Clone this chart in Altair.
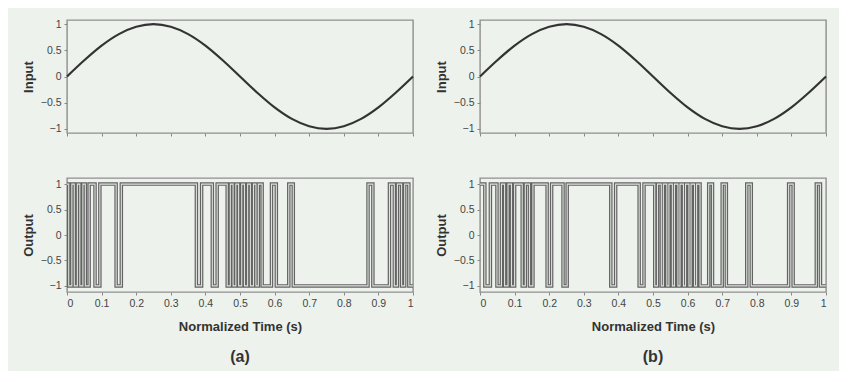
import altair as alt
import pandas as pd

# ---- data ----
t_in = [0.0, 0.05, 0.10, 0.15, 0.20, 0.25, 0.30, 0.35, 0.40, 0.45, 0.50,
        0.55, 0.60, 0.65, 0.70, 0.75, 0.80, 0.85, 0.90, 0.95, 1.0]
y_in = [0.0, 0.31, 0.59, 0.81, 0.95, 1.0, 0.95, 0.81, 0.59, 0.31, 0.0,
        -0.31, -0.59, -0.81, -0.95, -1.0, -0.95, -0.81, -0.59, -0.31, 0.0]

# high (+1) intervals of the output pulse trains; elsewhere the output is -1
a_high = [(0.000, 0.005), (0.014, 0.021), (0.030, 0.037), (0.046, 0.053),
          (0.064, 0.081), (0.095, 0.142), (0.157, 0.374), (0.389, 0.420),
          (0.434, 0.463), (0.472, 0.480), (0.488, 0.496), (0.505, 0.513),
          (0.522, 0.530), (0.539, 0.546), (0.553, 0.564), (0.591, 0.605),
          (0.641, 0.654), (0.870, 0.884), (0.932, 0.946), (0.955, 0.967),
          (0.976, 0.988)]
b_high = [(0.000, 0.014), (0.030, 0.049), (0.062, 0.071), (0.081, 0.091),
          (0.100, 0.122), (0.131, 0.143), (0.153, 0.194), (0.207, 0.240),
          (0.252, 0.378), (0.392, 0.460), (0.474, 0.505), (0.513, 0.524),
          (0.530, 0.540), (0.546, 0.556), (0.562, 0.572), (0.578, 0.588),
          (0.594, 0.604), (0.610, 0.620), (0.626, 0.636), (0.661, 0.672),
          (0.700, 0.712), (0.771, 0.784), (0.892, 0.905), (0.972, 0.984)]

y_ticks = [-1, -0.5, 0, 0.5, 1]
x_ticks = [0, 0.1, 0.2, 0.3, 0.4, 0.5, 0.6, 0.7, 0.8, 0.9, 1]
panel_labels = ["(a)", "(b)"]

BG = "#edf2ec"
FONT = "Liberation Sans, Arial, sans-serif"
W, H_IN, H_OUT = 346, 113, 114


def step_df(highs):
    pts = []
    cur = 0.0
    for s, e in highs:
        if s > cur:
            pts.append((cur, -1))
        pts.append((s, 1))
        cur = e
    last = 1
    if cur < 1.0:
        pts.append((cur, -1))
        last = -1
    pts.append((1.0, last))
    return pd.DataFrame(pts, columns=["t", "v"])


in_df = pd.DataFrame({"t": t_in, "v": y_in})

yaxis_kw = dict(values=y_ticks, format="~g", tickSize=3, labelFontSize=10.5,
                labelColor="#444", titleFontSize=13, titleFontWeight="bold",
                titleColor="#333", titlePadding=5, labelPadding=3, domain=False,
                grid=False, tickColor="#888", labelFont=FONT, titleFont=FONT,
                labelOverlap=False)


def input_chart():
    return alt.Chart(in_df).mark_line(
        interpolate="monotone", color="#333333", strokeWidth=2.2
    ).encode(
        x=alt.X("t:Q", scale=alt.Scale(domain=[0, 1], nice=False),
                axis=alt.Axis(values=x_ticks, labels=False, title=None, tickSize=3,
                              domain=False, grid=False, tickColor="#888")),
        y=alt.Y("v:Q", scale=alt.Scale(domain=[-1.08, 1.08], nice=False),
                axis=alt.Axis(title="Input", **yaxis_kw)),
    ).properties(width=W, height=H_IN)


def output_chart(highs, label):
    df = step_df(highs)
    x = alt.X("t:Q", scale=alt.Scale(domain=[0, 1], nice=False),
              axis=alt.Axis(values=x_ticks, format="~g", title="Normalized Time (s)",
                            tickSize=3, labelFontSize=10.5, labelColor="#444",
                            titleFontSize=13, titleFontWeight="bold", titleColor="#333",
                            titlePadding=12, labelPadding=3, domain=False, grid=False,
                            tickColor="#888", labelFont=FONT, titleFont=FONT,
                            labelOverlap=False))
    y = alt.Y("v:Q", scale=alt.Scale(domain=[-1.12, 1.12], nice=False),
              axis=alt.Axis(title="Output", **yaxis_kw))
    base = alt.Chart(df)
    outer = base.mark_line(interpolate="step-after", color="#636363",
                           strokeWidth=3.5).encode(x=x, y=y)
    inner = base.mark_line(interpolate="step-after", color="#dde3dc",
                           strokeWidth=1.1).encode(x=x, y=y)
    lab = alt.Chart(pd.DataFrame({"l": [label]})).mark_text(
        fontSize=16, fontWeight="bold", color="#333", font=FONT
    ).encode(x=alt.value(W / 2), y=alt.value(H_OUT + 65), text="l:N")
    return alt.layer(outer, inner, lab).properties(width=W, height=H_OUT)


col_a = alt.vconcat(input_chart(), output_chart(a_high, panel_labels[0]), spacing=38)
col_b = alt.vconcat(input_chart(), output_chart(b_high, panel_labels[1]), spacing=38)

chart = alt.hconcat(col_a, col_b, spacing=13).properties(
    background=BG,
    padding={"left": 13, "top": 10, "right": 5, "bottom": 5},
).configure_view(
    stroke="#8f8f8f", strokeWidth=1.4, fill=BG
)

chart.save("out.html", embed_options={"renderer": "svg", "actions": False})
